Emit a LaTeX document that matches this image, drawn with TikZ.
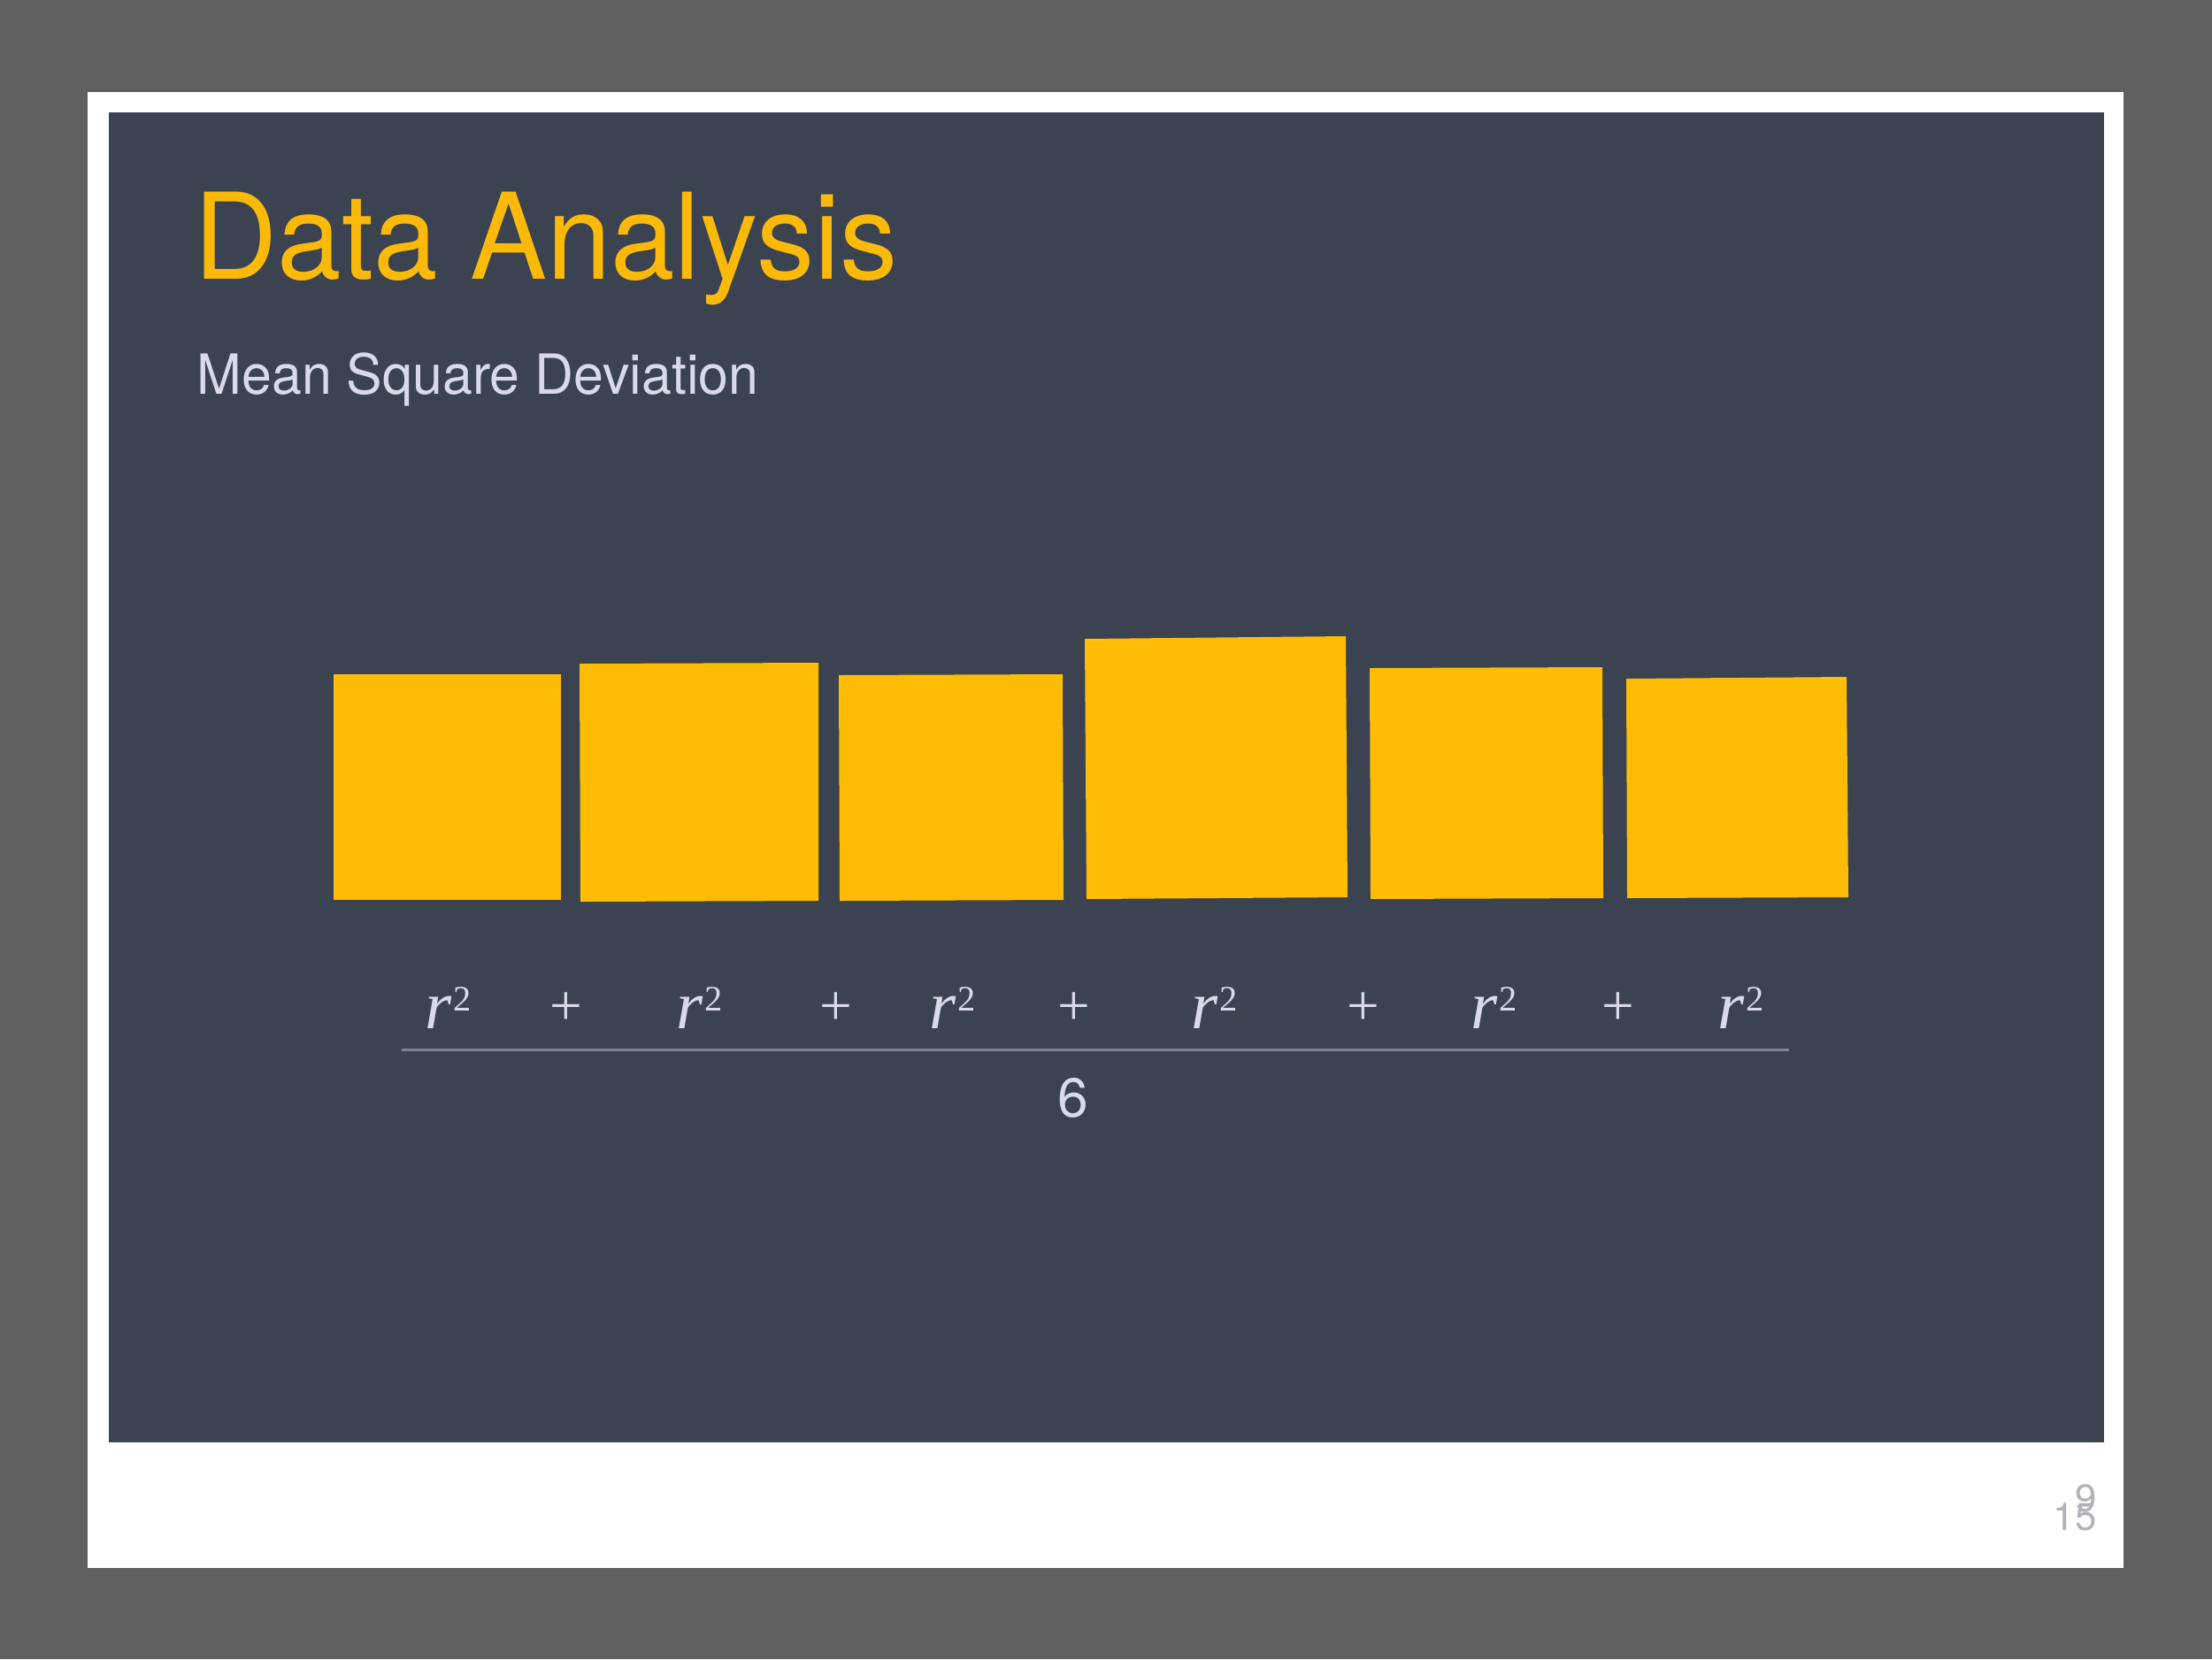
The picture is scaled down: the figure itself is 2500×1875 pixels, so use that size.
\documentclass[tikz,border=0pt]{standalone}
\usepackage{fontspec}
\usepackage{graphicx}
\setmainfont{TeX Gyre Heros}
\newfontfamily\mathserif{Liberation Serif}
\definecolor{outergray}{HTML}{606060}
\definecolor{panel}{HTML}{3B4250}
\definecolor{sqyellow}{HTML}{FEBC04}
\definecolor{titleyellow}{HTML}{FBBA0A}
\definecolor{lighttext}{HTML}{D9DAE7}
\definecolor{rulegray}{HTML}{7E828A}
\definecolor{pagegray}{HTML}{B2B2BA}
\tikzset{
  sq/.style={fill=sqyellow},
  rsq/.style={anchor=base west, inner sep=0, text=lighttext, font=\mathserif\fontsize{22}{24}\selectfont},
  plus/.style={anchor=center, inner sep=0, text=lighttext, font=\mathserif\fontsize{18.5}{20}\selectfont},
  pagenum/.style={anchor=base east, inner sep=0, text=pagegray, font=\fontsize{12.4}{14}\selectfont}
}
\newcommand{\rsqtext}{\textit{r}\hspace{0.5pt}\raisebox{5.6pt}{\fontsize{11.5}{12}\selectfont 2}}
\begin{document}
\begin{tikzpicture}[x=0.01cm,y=-0.01cm]
\useasboundingbox (0,0) rectangle (2500,1875);
\fill[outergray] (0,0) rectangle (2500,1875);
\fill[white] (99,104) rectangle (2400,1772);
\fill[panel] (123,127) rectangle (2378,1630);
% squares
\fill[sq] (377,762) -- (634,762) -- (634,1017) -- (377,1017) -- cycle;
\fill[sq] (655,750) -- (925,749) -- (925,1018) -- (656,1019) -- cycle;
\fill[sq] (948,763) -- (1201,762) -- (1202,1017) -- (949,1018) -- cycle;
\fill[sq] (1226,722) -- (1521,719) -- (1523,1014) -- (1228,1016) -- cycle;
\fill[sq] (1548,755) -- (1811,754) -- (1812,1015) -- (1549,1016) -- cycle;
\fill[sq] (1838,767) -- (2087,765) -- (2089,1014) -- (1839,1015) -- cycle;
% titles
\node[anchor=base west, inner sep=0, text=titleyellow, font=\fontsize{38.4}{40}\selectfont] (title) at (219,315) {\scalebox{0.965}[1]{Data Analysis}};
\node[anchor=base west, inner sep=0, text=lighttext, font=\fontsize{17.8}{20}\selectfont] (subtitle) at (222,445) {\scalebox{0.972}[1]{Mean Square Deviation}};
% numerator
\node[rsq] (r1) at (480,1162) {\rsqtext};
\node[rsq] (r2) at (764,1162) {\rsqtext};
\node[rsq] (r3) at (1050,1162) {\rsqtext};
\node[rsq] (r4) at (1346,1162) {\rsqtext};
\node[rsq] (r5) at (1662,1162) {\rsqtext};
\node[rsq] (r6) at (1941,1162) {\rsqtext};
\node[plus] (p1) at (640,1140) {+};
\node[plus] (p2) at (945,1140) {+};
\node[plus] (p3) at (1214,1140) {+};
\node[plus] (p4) at (1541,1140) {+};
\node[plus] (p5) at (1829,1140) {+};
% fraction rule
\coordinate (fl) at (454,1186);
\coordinate (fr) at (2022,1186);
\draw[rulegray, line width=0.85pt] (fl) -- (fr);
\node[anchor=base, inner sep=0, text=lighttext, font=\fontsize{17.7}{20}\selectfont] (den) at (1213,1262) {6};
% page numbers
\node[pagenum] (pn1) at (2370,1729) {15};
\node[pagenum] (pn2) at (2370,1708) {9};
\end{tikzpicture}
\end{document}
